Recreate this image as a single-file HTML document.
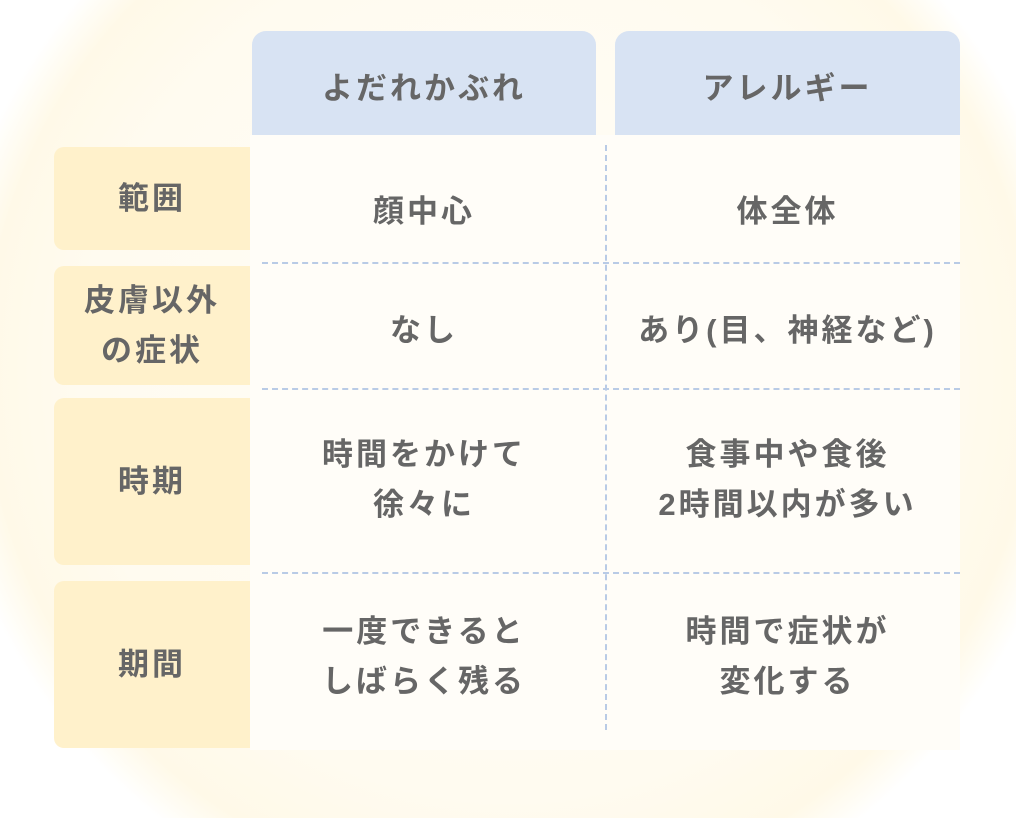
<!DOCTYPE html>
<html style="width:1016px;height:818px;overflow:hidden"><head><meta charset="utf-8"><style>
html,body{margin:0;padding:0}
body{width:1016px;height:818px;overflow:hidden;background:#fff;font-family:"Liberation Sans","Noto Sans CJK JP",sans-serif;color:#666}
.wrap{position:relative;width:1016px;height:818px;overflow:hidden;background:radial-gradient(circle 570px at 510px 370px,#fffdf8 0%,#fffbf0 75%,#fff9e8 92%,#fffdf6 97%,#fff 100%)}
.abs{position:absolute;display:flex;align-items:center;justify-content:center;text-align:center;font-size:31px;letter-spacing:3px;line-height:50px;font-weight:700}
.h{background:#d8e3f3;border-radius:14px 14px 0 0}
.y{background:#fff1cb;border-radius:10px 0 0 10px}
.body{position:absolute;left:250px;top:135px;width:710px;height:615px;background:#fffdf8}
.hl{position:absolute;height:0;border-top:2px dashed #b9cbe6;left:262px;width:698px}
.vl{position:absolute;width:0;border-left:2px dashed #b9cbe6;left:605px;top:145px;height:585px}
</style></head><body><div class="wrap">
<div class="abs h" style="left:252px;top:31px;width:344px;height:116px">よだれかぶれ</div>
<div class="abs h" style="left:615px;top:31px;width:345px;height:116px">アレルギー</div>
<div class="body"></div>
<div class="abs y" style="left:54px;top:147px;width:196px;height:103px">範囲</div>
<div class="abs y" style="left:54px;top:266px;width:196px;height:119px">皮膚以外<br>の症状</div>
<div class="abs y" style="left:54px;top:398px;width:196px;height:167px">時期</div>
<div class="abs y" style="left:54px;top:581px;width:196px;height:167px">期間</div>
<div class="hl" style="top:262px"></div>
<div class="hl" style="top:388px"></div>
<div class="hl" style="top:572px"></div>
<div class="vl"></div>
<div class="abs" style="left:252px;top:156px;width:344px;height:112px">顔中心</div>
<div class="abs" style="left:615px;top:156px;width:345px;height:112px">体全体</div>
<div class="abs" style="left:252px;top:270px;width:344px;height:122px">なし</div>
<div class="abs" style="left:615px;top:270px;width:345px;height:122px">あり(目、神経など)</div>
<div class="abs" style="left:252px;top:390px;width:344px;height:180px">時間をかけて<br>徐々に</div>
<div class="abs" style="left:615px;top:390px;width:345px;height:180px">食事中や食後<br>2時間以内が多い</div>
<div class="abs" style="left:252px;top:572px;width:344px;height:170px">一度できると<br>しばらく残る</div>
<div class="abs" style="left:615px;top:572px;width:345px;height:170px">時間で症状が<br>変化する</div>
</div></body></html>
